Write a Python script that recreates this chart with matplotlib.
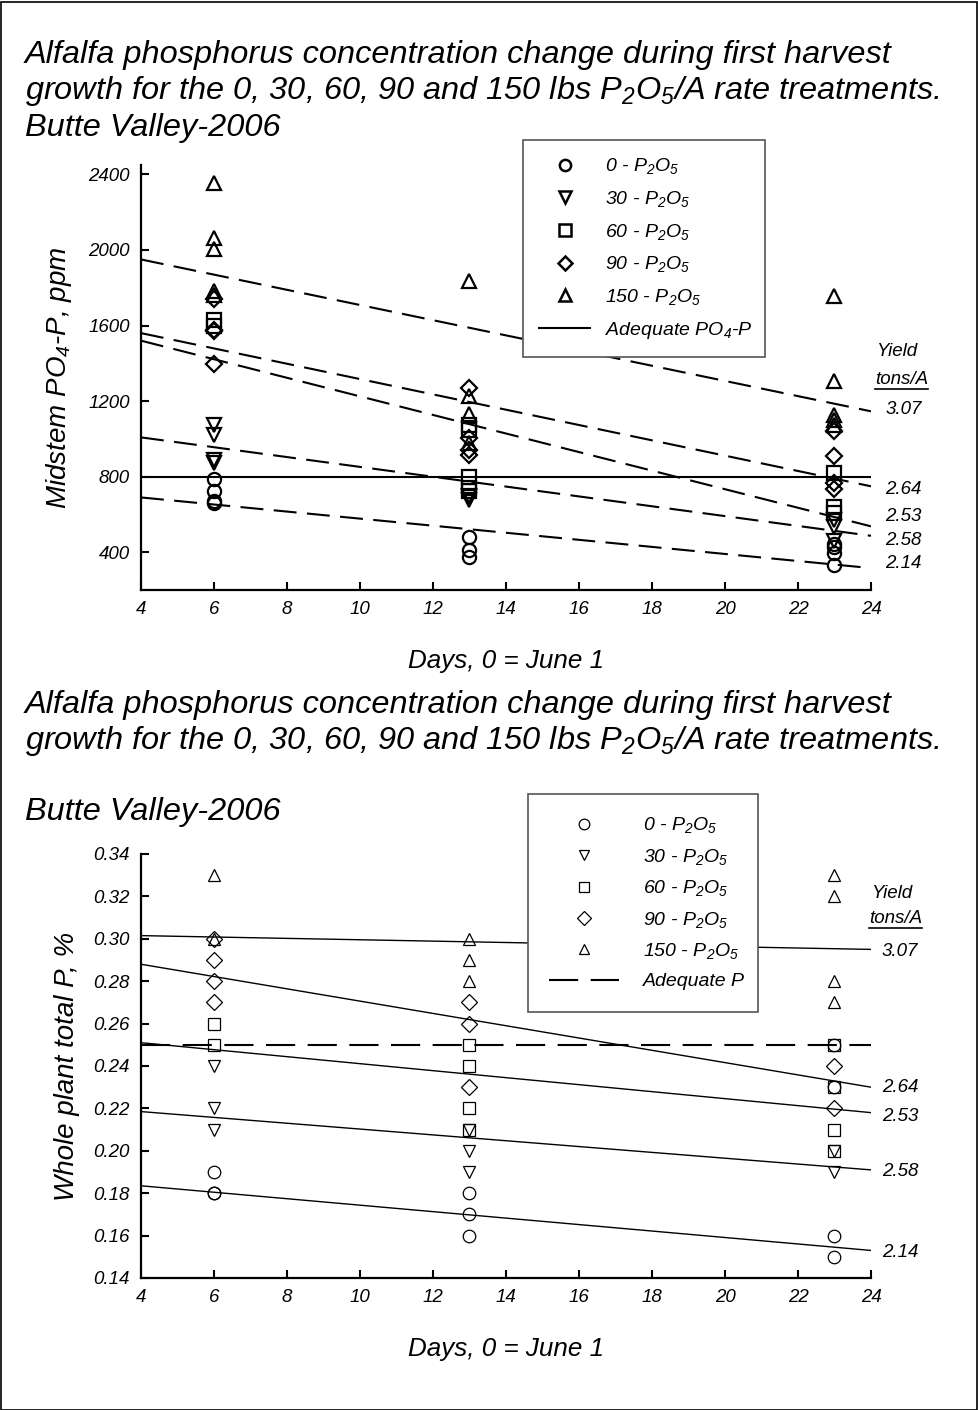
import matplotlib
matplotlib.use("Agg")
import matplotlib.pyplot as plt
from matplotlib.patches import Rectangle
from matplotlib.lines import Line2D

plt.rcParams['font.family'] = ['Liberation Sans', 'DejaVu Sans']
plt.rcParams['font.style'] = 'italic'
plt.rcParams['mathtext.fontset'] = 'custom'
plt.rcParams['mathtext.rm'] = 'Liberation Sans:italic'
plt.rcParams['mathtext.it'] = 'Liberation Sans:italic'
plt.rcParams['mathtext.bf'] = 'Liberation Sans:italic'

# ---------------- data ----------------
treatments = ["0", "30", "60", "90", "150"]
markers = ["o", "v", "s", "D", "^"]
days_fit = [4, 24]
yields = ["3.07", "2.64", "2.53", "2.58", "2.14"]

# Top: midstem PO4-P, ppm  (day -> values)
top_t0 = {6: [790, 722, 669, 660], 13: [481, 413, 375], 23: [445, 430, 397, 334]}
top_t30 = {6: [1075, 1022, 890, 870], 13: [696, 678, 690], 23: [570, 535, 462]}
top_t60 = {6: [1630, 1600], 13: [1075, 1049, 800, 742, 722], 23: [820, 640, 606]}
top_t90 = {6: [1738, 1579, 1570, 1399], 13: [1270, 1007, 943, 917], 23: [1040, 908, 767, 737]}
top_t150 = {6: [2356, 2065, 2006, 1782, 1760], 13: [1835, 1225, 1134, 980], 23: [1755, 1305, 1128, 1102, 1075]}
top_fit_start = [1950, 1560, 1520, 1008, 690]
top_fit_end = [1146, 749, 537, 487, 316]
top_label_y = [1155, 731, 588, 461, 339]
top_adequate = 800

# Bottom: whole plant total P, %
bot_t0 = {6: [0.19, 0.18, 0.18], 13: [0.18, 0.17, 0.16], 23: [0.25, 0.23, 0.16, 0.15]}
bot_t30 = {6: [0.24, 0.22, 0.21], 13: [0.21, 0.20, 0.19], 23: [0.20, 0.19]}
bot_t60 = {6: [0.26, 0.25], 13: [0.25, 0.24, 0.22, 0.21], 23: [0.25, 0.23, 0.21, 0.20]}
bot_t90 = {6: [0.30, 0.29, 0.28, 0.27], 13: [0.27, 0.26, 0.23], 23: [0.24, 0.22]}
bot_t150 = {6: [0.33, 0.30], 13: [0.30, 0.29, 0.28], 23: [0.33, 0.32, 0.28, 0.27]}
bot_fit_start = [0.3015, 0.288, 0.251, 0.2185, 0.1835]
bot_fit_end = [0.295, 0.230, 0.218, 0.191, 0.153]
bot_label_y = [0.2942, 0.230, 0.2164, 0.190, 0.1518]
bot_adequate = 0.25

x_ticks = list(range(4, 25, 2))
top_yticks = [400, 800, 1200, 1600, 2000, 2400]
bot_yticks = [0.14, 0.16, 0.18, 0.20, 0.22, 0.24, 0.26, 0.28, 0.30, 0.32, 0.34]

title1 = "Alfalfa phosphorus concentration change during first harvest"
title2 = "growth for the 0, 30, 60, 90 and 150 lbs P$_2$O$_5$/A rate treatments."
title3 = "Butte Valley-2006"

# ---------------- figure ----------------
W, H = 979, 1410
fig = plt.figure(figsize=(W / 100, H / 100), dpi=100)
fig.patches.append(Rectangle((1 / W, 0), 1 - 3 / W, 1 - 1.5 / H, transform=fig.transFigure,
                             fill=False, edgecolor='black', linewidth=1.2))


def fx(px):
    return px / W


def fy(py):
    return 1 - py / H


def style_axes(ax):
    for s in ['top', 'right']:
        ax.spines[s].set_visible(False)
    for s in ['left', 'bottom']:
        ax.spines[s].set_linewidth(1.6)
    ax.tick_params(direction='in', length=6, width=1.5, labelsize=13.5, pad=8)
    ax.set_xlim(4, 24)
    ax.set_xticks(x_ticks)
    ax.set_xticklabels([str(v) for v in x_ticks])


def draw_titles(y1, y2, y3):
    fig.text(fx(25), fy(y1), title1, fontsize=23.4, va='center', ha='left')
    fig.text(fx(25), fy(y2), title2, fontsize=23.4, va='center', ha='left')
    fig.text(fx(25), fy(y3), title3, fontsize=23.4, va='center', ha='left')


underlined = []

# ---- top chart ----
draw_titles(55, 91, 128)
ax1 = fig.add_axes([fx(141), fy(590), fx(871) - fx(141), fy(165) - fy(590)])
style_axes(ax1)
ax1.set_ylim(200, 2450)
ax1.set_yticks(top_yticks)
ax1.set_yticklabels([str(v) for v in top_yticks])

top_sets = [top_t0, top_t30, top_t60, top_t90, top_t150]
handles = []
for tr, mk, data in zip(treatments, markers, top_sets):
    xs, ys = [], []
    for d, vals in data.items():
        xs += [d] * len(vals)
        ys += vals
    ms = 9.5 if mk != 'D' else 8.5
    ax1.plot(xs, ys, linestyle='none', marker=mk, markersize=ms, markerfacecolor='none',
             markeredgecolor='black', markeredgewidth=1.6, clip_on=False, zorder=3)
    handles.append(Line2D([], [], linestyle='none', marker=mk, markersize=ms * 0.85,
                          markerfacecolor='none', markeredgecolor='black', markeredgewidth=1.8,
                          label=tr + " - P$_2$O$_5$"))
for s, e in zip(top_fit_start, top_fit_end):
    ax1.plot(days_fit, [s, e], color='black', linewidth=1.5, dashes=(11, 5), zorder=2)
ax1.axhline(top_adequate, color='black', linewidth=1.5, zorder=2)
handles.append(Line2D([], [], color='black', linewidth=1.5, label="Adequate PO$_4$-P"))

leg1 = ax1.legend(handles=handles, loc='upper left', bbox_to_anchor=(0.523, 1.059, 0.332, 0.0),
                  mode='expand', fontsize=14, frameon=True, fancybox=False, shadow=False,
                  framealpha=1.0, facecolor='white',
                  handlelength=2.6, handletextpad=0.8, labelspacing=0.65, borderpad=0.85,
                  borderaxespad=0)
leg1.get_frame().set_edgecolor('#555555')
leg1.get_frame().set_linewidth(1.2)
leg1.set_zorder(5)

for lbl, yv in zip(yields, top_label_y):
    ax1.text(24.4, yv, lbl, fontsize=13.5, va='center', ha='left', clip_on=False)
ax1.text(24.15, 1462, "Yield", fontsize=13.5, va='center', ha='left', clip_on=False)
underlined.append(ax1.text(24.1, 1314, "tons/A", fontsize=13.5, va='center', ha='left', clip_on=False))

ax1.set_xlabel("Days, 0 = June 1", fontsize=18.7, labelpad=22)
ax1.set_ylabel("Midstem PO$_4$-P, ppm", fontsize=20, labelpad=10)

# ---- bottom chart ----
draw_titles(705, 741, 812)
ax2 = fig.add_axes([fx(141), fy(1278), fx(871) - fx(141), fy(854) - fy(1278)])
style_axes(ax2)
ax2.set_ylim(0.14, 0.34)
ax2.set_yticks(bot_yticks)
ax2.set_yticklabels(["%.2f" % v for v in bot_yticks])

bot_sets = [bot_t0, bot_t30, bot_t60, bot_t90, bot_t150]
handles2 = []
for tr, mk, data in zip(treatments, markers, bot_sets):
    xs, ys = [], []
    for d, vals in data.items():
        xs += [d] * len(vals)
        ys += vals
    ms = 9 if mk != 'D' else 8
    ax2.plot(xs, ys, linestyle='none', marker=mk, markersize=ms, markerfacecolor='none',
             markeredgecolor='black', markeredgewidth=0.9, clip_on=False, zorder=3)
    handles2.append(Line2D([], [], linestyle='none', marker=mk, markersize=ms * 0.85,
                           markerfacecolor='none', markeredgecolor='black', markeredgewidth=0.9,
                           label=tr + " - P$_2$O$_5$"))
for s, e in zip(bot_fit_start, bot_fit_end):
    ax2.plot(days_fit, [s, e], color='black', linewidth=1.0, zorder=2)
ax2.axhline(bot_adequate, color='black', linewidth=1.5, dashes=(14, 6), zorder=2)
handles2.append(Line2D([], [], color='black', linewidth=1.5, dashes=(14, 6), label="Adequate P"))

leg2 = ax2.legend(handles=handles2, loc='upper left', bbox_to_anchor=(0.530, 1.1415, 0.315, 0.0),
                  mode='expand', fontsize=14, frameon=True, fancybox=False, shadow=False,
                  framealpha=1.0, facecolor='white',
                  handlelength=3.6, handletextpad=1.2, labelspacing=0.59, borderpad=1.1,
                  borderaxespad=0)
leg2.get_frame().set_edgecolor('#555555')
leg2.get_frame().set_linewidth(1.2)
leg2.set_zorder(5)

for lbl, yv in zip(yields, bot_label_y):
    ax2.text(24.3, yv, lbl, fontsize=13.5, va='center', ha='left', clip_on=False)
ax2.text(24.0, 0.3216, "Yield", fontsize=13.5, va='center', ha='left', clip_on=False)
underlined.append(ax2.text(23.95, 0.3098, "tons/A", fontsize=13.5, va='center', ha='left', clip_on=False))

ax2.set_xlabel("Days, 0 = June 1", fontsize=18.7, labelpad=22)
ax2.set_ylabel("Whole plant total P, %", fontsize=20, labelpad=10)

# underline the "tons/A" headers
fig.canvas.draw()
renderer = fig.canvas.get_renderer()
for t in underlined:
    bb = t.get_window_extent(renderer)
    yline = bb.y0 - 1
    fig.add_artist(Line2D([bb.x0 / W, bb.x1 / W], [yline / H, yline / H],
                          transform=fig.transFigure, color='black', linewidth=1.2))

fig.savefig("out.png", dpi=100)
